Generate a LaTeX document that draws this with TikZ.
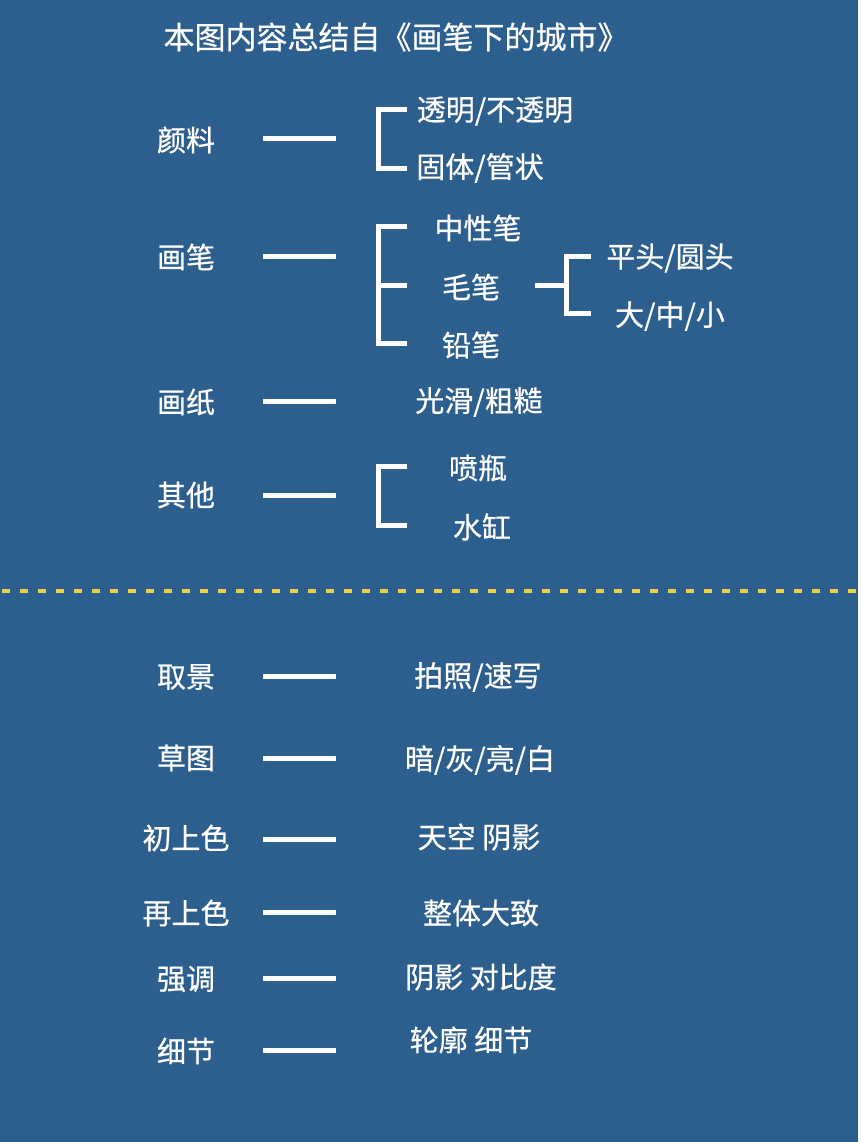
\documentclass[tikz,border=0pt]{standalone}
\usepackage{fontspec}
\setmainfont{Noto Sans CJK SC}[FakeBold=0.6]
\usepackage{xcolor}

\definecolor{boardblue}{RGB}{45,95,142}
\definecolor{dashyellow}{RGB}{233,211,72}

\tikzset{
  lbl/.style={text=white, inner sep=0pt, font=\fontsize{29}{29}\selectfont},
  bar/.style={white, line width=5pt},
  brk/.style={white, line width=5pt, line join=miter}
}

\begin{document}
\begin{tikzpicture}[x=1pt, y=-1pt]

% background
\fill[boardblue] (0,0) rectangle (858,1142);

% title
\node[lbl, font=\fontsize{31}{31}\selectfont] (title) at (396,37) {本图内容总结自《画笔下的城市》};

% materials
\node[lbl] (yanliao) at (186,140) {颜料};
\node[lbl] (toum) at (495,111) {透明/不透明};
\node[lbl] (guti) at (480,168) {固体/管状};
\coordinate (yl1) at (263,139);
\coordinate (yl2) at (336,139);
\draw[bar] (yl1) -- (yl2);
\coordinate (ylt) at (407,110);
\coordinate (ylb) at (407,169);
\draw[brk] (ylt) -- (378,110) -- (378,169) -- (ylb);

% brushes
\node[lbl] (huabi) at (186,257) {画笔};
\node[lbl] (zhongx) at (478,228) {中性笔};
\node[lbl] (maobi) at (471,287) {毛笔};
\node[lbl] (qianbi) at (471,345) {铅笔};
\coordinate (hb1) at (263,256);
\coordinate (hb2) at (336,256);
\draw[bar] (hb1) -- (hb2);
\coordinate (hbt) at (407,226);
\coordinate (hbm) at (407,285);
\coordinate (hbb) at (407,343);
\draw[brk] (hbt) -- (378,226) -- (378,343) -- (hbb);
\draw[brk] (378,285) -- (hbm);

% brush tips
\node[lbl] (pingt) at (670,258) {平头/圆头};
\node[lbl] (daxiao) at (670,316) {大/中/小};
\coordinate (mb1) at (535,285);
\draw[brk] (mb1) -- (566,285);
\coordinate (mbt) at (591,256);
\coordinate (mbb) at (591,313);
\draw[brk] (mbt) -- (566,256) -- (566,313) -- (mbb);

% paper
\node[lbl] (huazhi) at (186,402) {画纸};
\node[lbl] (guangh) at (479,402) {光滑/粗糙};
\coordinate (hz1) at (263,401);
\coordinate (hz2) at (336,401);
\draw[bar] (hz1) -- (hz2);

% others
\node[lbl] (qita) at (186,495) {其他};
\node[lbl] (penping) at (478,468) {喷瓶};
\node[lbl] (shuigang) at (482,527) {水缸};
\coordinate (qt1) at (263,495);
\coordinate (qt2) at (336,495);
\draw[bar] (qt1) -- (qt2);
\coordinate (qtt) at (407,466);
\coordinate (qtb) at (407,525);
\draw[brk] (qtt) -- (378,466) -- (378,525) -- (qtb);

% divider
\draw[dashyellow, line width=4pt, dash pattern=on 8pt off 10pt] (2,591) -- (858,591);

% steps
\node[lbl] (qujing) at (186,677) {取景};
\node[lbl] (paiz) at (478,677) {拍照/速写};
\draw[bar] (263,676) coordinate (qj1) -- (336,676) coordinate (qj2);

\node[lbl] (caotu) at (186,758) {草图};
\node[lbl] (anhui) at (480,760) {暗/灰/亮/白};
\draw[bar] (263,758) coordinate (ct1) -- (336,758) coordinate (ct2);

\node[lbl] (chuse) at (186,838) {初上色};
\node[lbl] (tiank) at (479,837) {天空 阴影};
\draw[bar] (263,839) coordinate (cs1) -- (336,839) coordinate (cs2);

\node[lbl] (zaise) at (186,913) {再上色};
\node[lbl] (zhengt) at (481,913) {整体大致};
\draw[bar] (263,912) coordinate (zs1) -- (336,912) coordinate (zs2);

\node[lbl] (qiangd) at (186,979) {强调};
\node[lbl] (yiny) at (481,977) {阴影 对比度};
\draw[bar] (263,978) coordinate (qd1) -- (336,978) coordinate (qd2);

\node[lbl] (xijie) at (186,1051) {细节};
\node[lbl] (lunk) at (471,1040) {轮廓 细节};
\draw[bar] (263,1050) coordinate (xj1) -- (336,1050) coordinate (xj2);

\end{tikzpicture}
\end{document}
